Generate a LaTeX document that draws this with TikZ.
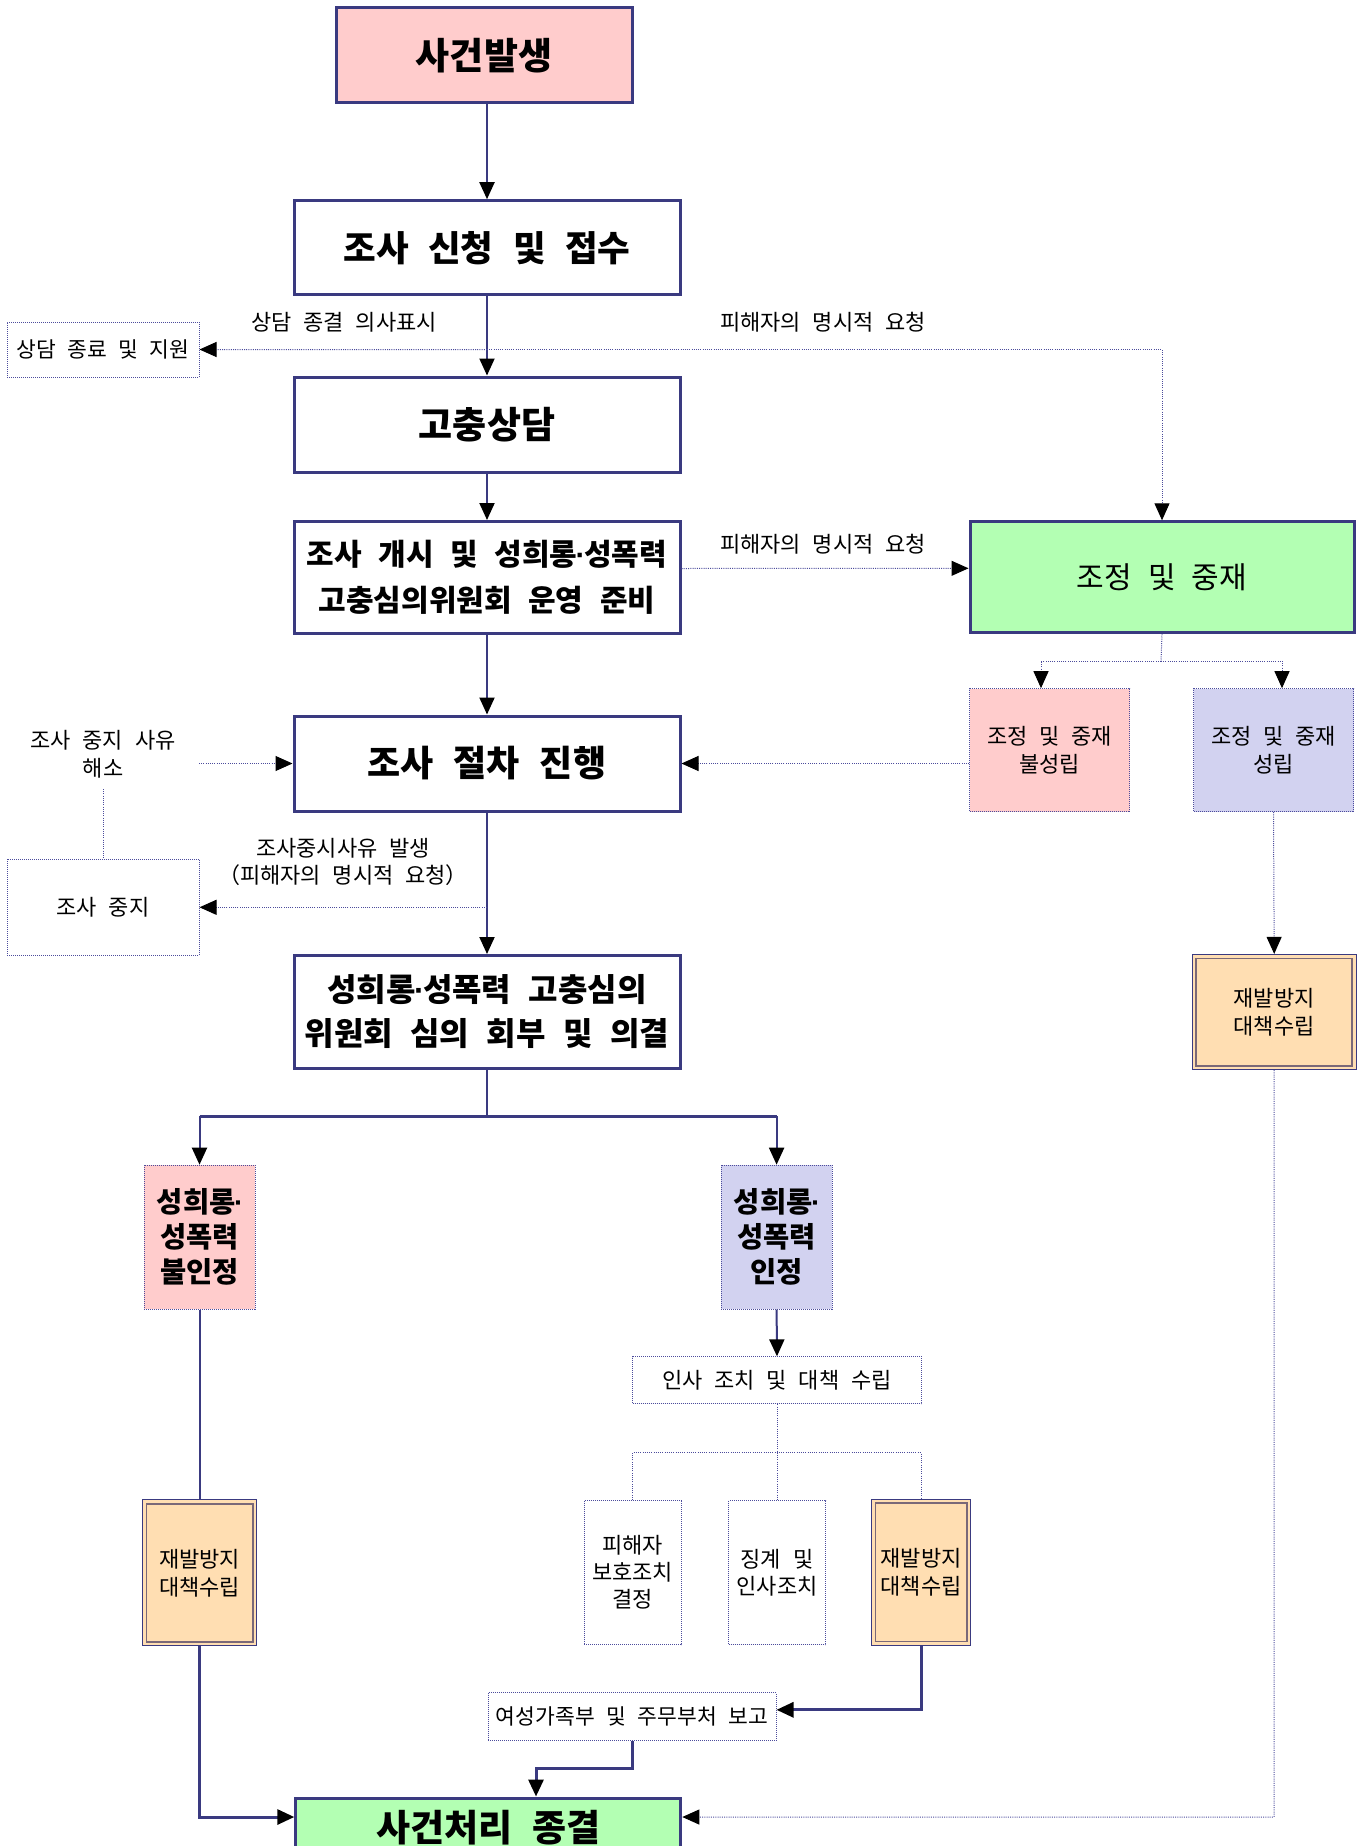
\documentclass[tikz,border=0pt]{standalone}
\usepackage{fontspec}
\newfontfamily\kr[WordSpace=2.4]{Noto Sans CJK KR}
\newfontfamily\latf{Liberation Sans}
\usetikzlibrary{arrows.meta,calc}
\definecolor{navy}{HTML}{3A3A80}
\definecolor{dotc}{HTML}{4C4C9C}
\definecolor{pinkf}{HTML}{FFCCCC}
\definecolor{greenf}{HTML}{B3FFB3}
\definecolor{lavf}{HTML}{D2D2F0}
\definecolor{peachf}{HTML}{FFDEB2}
\definecolor{innerc}{HTML}{7A6878}
\newcommand\myfs[2]{\fontsize{#1}{#2}\selectfont}
\newcommand\mdot{{\latf\bfseries\kern-0.05em·\kern-0.05em}}
\begin{document}
\begin{tikzpicture}[x=1pt,y=-1pt,
  every node/.style={inner sep=0pt},
  mainbox/.style={draw=navy,line width=3pt,align=center},
  dotbox/.style={draw=dotc,line width=1pt,dash pattern=on 1pt off 1pt,align=center},
  peachbox/.style={draw=navy,line width=1.2pt,fill=peachf,align=center},
  lab/.style={align=center},
  conn/.style={draw=navy,line width=2pt},
  connb/.style={draw=navy,line width=3pt},
  dotline/.style={draw=dotc,line width=1pt,dash pattern=on 1pt off 1.2pt},
  arr/.style={-{Triangle[length=17pt,width=15pt,color=black]}}]
\fill[white] (0,0) rectangle (1366,1846);
\useasboundingbox (0,0) rectangle (1366,1846);

% main column
\node[mainbox,fill=pinkf,minimum width=296pt,minimum height=95pt,font=\kr\bfseries\myfs{37}{40}] (n1) at (484,55.5) {사건발생};
\node[mainbox,minimum width=386pt,minimum height=94pt,font=\kr\bfseries\myfs{35.5}{40}] (n2) at (487,247.7) {조사 신청 및 접수};
\node[mainbox,minimum width=386pt,minimum height=95pt,font=\kr\bfseries\myfs{37}{40}] (n3) at (487,424.5) {고충상담};
\node[mainbox,minimum width=386pt,minimum height=112pt,font=\kr\bfseries\myfs{30}{46}] (n4) at (487,577.5) {조사 개시 및 성희롱\mdot 성폭력\\고충심의위원회 운영 준비};
\node[mainbox,minimum width=386pt,minimum height=95pt,font=\kr\bfseries\myfs{36}{40}] (n5) at (487,763.5) {조사 절차 진행};
\node[mainbox,minimum width=386pt,minimum height=113pt,font=\kr\bfseries\myfs{32}{44}] (n6) at (487,1012) {성희롱\mdot 성폭력 고충심의\\위원회 심의 회부 및 의결};
\node[mainbox,fill=greenf,minimum width=385pt,minimum height=100pt,anchor=north] (n7) at (488.3,1796.5) {};
\node[font=\kr\bfseries\myfs{37}{40}] (n7t) at (488.3,1828) {사건처리 종결};

% right side
\node[mainbox,fill=greenf,minimum width=384pt,minimum height=111pt,font=\kr\myfs{30}{34}] (g1) at (1162,577.3) {조정 및 중재};
\node[dotbox,fill=pinkf,minimum width=160pt,minimum height=123pt,font=\kr\myfs{22}{28}] (p1) at (1049.7,750.2) {조정 및 중재\\불성립};
\node[dotbox,fill=lavf,minimum width=160pt,minimum height=123pt,font=\kr\myfs{22}{28}] (q1) at (1273.5,750.2) {조정 및 중재\\성립};
\node[peachbox,minimum width=164pt,minimum height=115pt,font=\kr\myfs{22}{28}] (r1) at (1274.2,1012) {재발방지\\대책수립};

% left side
\node[dotbox,minimum width=192pt,minimum height=55pt,font=\kr\myfs{21.5}{24}] (a1) at (103,349.5) {상담 종료 및 지원};
\node[dotbox,minimum width=192pt,minimum height=96pt,font=\kr\myfs{22}{24}] (s1) at (103,907.3) {조사 중지};
\node[lab,font=\kr\myfs{22}{28}] (t1) at (103,754) {조사 중지 사유\\해소};

% labels
\node[lab,font=\kr\myfs{22}{24}] (L1) at (344,322) {상담 종결 의사표시};
\node[lab,font=\kr\myfs{22}{24}] (L2) at (823,322) {피해자의 명시적 요청};
\node[lab,font=\kr\myfs{22}{24}] (L3) at (823,544) {피해자의 명시적 요청};
\node[lab,font=\kr\myfs{22}{27}] (L4) at (343,861.5) {조사중시사유 발생\\（피해자의 명시적 요청）};

% lower part
\node[dotbox,fill=pinkf,minimum width=111pt,minimum height=144pt,font=\kr\bfseries\myfs{28.5}{35}] (b1) at (199.5,1237.2) {성희롱\mdot\\성폭력\\불인정};
\node[dotbox,fill=lavf,minimum width=111pt,minimum height=144pt,font=\kr\bfseries\myfs{28.5}{35}] (b2) at (776.6,1237.2) {성희롱\mdot\\성폭력\\인정};
\node[peachbox,minimum width=114pt,minimum height=146pt,font=\kr\myfs{22}{28}] (r2) at (199.5,1572.8) {재발방지\\대책수립};
\node[dotbox,minimum width=289pt,minimum height=47pt,font=\kr\myfs{22}{24}] (m1) at (777,1380.3) {인사 조치 및 대책 수립};
\node[dotbox,minimum width=97pt,minimum height=144pt,font=\kr\myfs{22}{27}] (m2) at (632.6,1572.5) {피해자\\보호조치\\결정};
\node[dotbox,minimum width=97pt,minimum height=144pt,font=\kr\myfs{22}{27}] (m3) at (777,1572.5) {징계 및\\인사조치};
\node[peachbox,minimum width=99pt,minimum height=146pt,font=\kr\myfs{22}{28}] (r3) at (921,1572.3) {재발방지\\대책수립};
\node[dotbox,minimum width=288pt,minimum height=48pt,font=\kr\myfs{21.5}{24}] (w1) at (632,1716.5) {여성가족부 및 주무부처 보고};

% inner lines of double-bordered boxes
\foreach \b in {r1,r2,r3}{
  \draw[innerc,line width=1.8pt] ($(\b.north west)+(4.5,4.5)$) rectangle ($(\b.south east)+(-4.5,-4.5)$);
}

% connectors
\draw[conn,arr] (n2.north |- n1.south) -- (n2.north);
\draw[conn,arr] (n2.south) -- (n3.north);
\coordinate (c1) at (487,349.6);
\draw[dotline,arr] (c1) -- (a1.east);
\draw[dotline,arr] (c1) -| (g1.north);
\draw[conn,arr] (n3.south) -- (n4.north);
\draw[dotline,arr] ($(n4.east)+(0,-9)$) -- ($(g1.west)+(0,-9)$);
\draw[conn,arr] (n4.south) -- (n5.north);
\draw[conn,arr] (n5.south) -- (n6.north);

\coordinate (c2) at (1161,661);
\coordinate (c3) at (1041,661);
\coordinate (c4) at (1282,661);
\draw[dotline] (g1.south) -- (c2);
\draw[dotline,arr] (c2) -- (c3) -- (c3 |- p1.north);
\draw[dotline,arr] (c2) -- (c4) -- (c4 |- q1.north);
\draw[dotline,arr] (p1.west |- n5.east) -- (n5.east);
\draw[dotline,arr] (q1.south) -- (r1.north);
\coordinate (c5) at (1274,1817);
\draw[dotline,arr] (r1.south) -- (c5) -- (c5 -| n7.east);

\coordinate (c6) at (199,763.5);
\draw[dotline,arr] (c6) -- (c6 -| n5.west);
\coordinate (c7) at (103,789);
\draw[dotline] (c7) -- (s1.north);
\coordinate (c8) at (487,907.3);
\draw[dotline,arr] (c8) -- (s1.east);

\coordinate (c9) at (487,1116.4);
\draw[conn] (n6.south) -- (c9);
\draw[connb] (b1.north |- c9) -- (b2.north |- c9);
\draw[conn,arr] (b1.north |- c9) -- (b1.north);
\draw[conn,arr] (b2.north |- c9) -- (b2.north);
\draw[conn] (b1.south) -- (r2.north);
\coordinate (c10) at (199.5,1817);
\draw[connb,arr] (r2.south) -- (c10) -- (c10 -| n7.west);
\draw[conn,arr] (b2.south) -- (m1.north);

\coordinate (c11) at (777,1452.7);
\draw[dotline] (m1.south) -- (m3.north);
\draw[dotline] (m2.north) |- (c11) -| (r3.north);
\coordinate (c12) at (921,1709.8);
\draw[connb,arr] (r3.south) -- (c12) -- (c12 -| w1.east);
\coordinate (c13) at (632,1768.3);
\coordinate (c14) at (536,1768.3);
\draw[connb,arr] (w1.south) -- (c13) -- (c14) -- (c14 |- n7.north);
\end{tikzpicture}
\end{document}
